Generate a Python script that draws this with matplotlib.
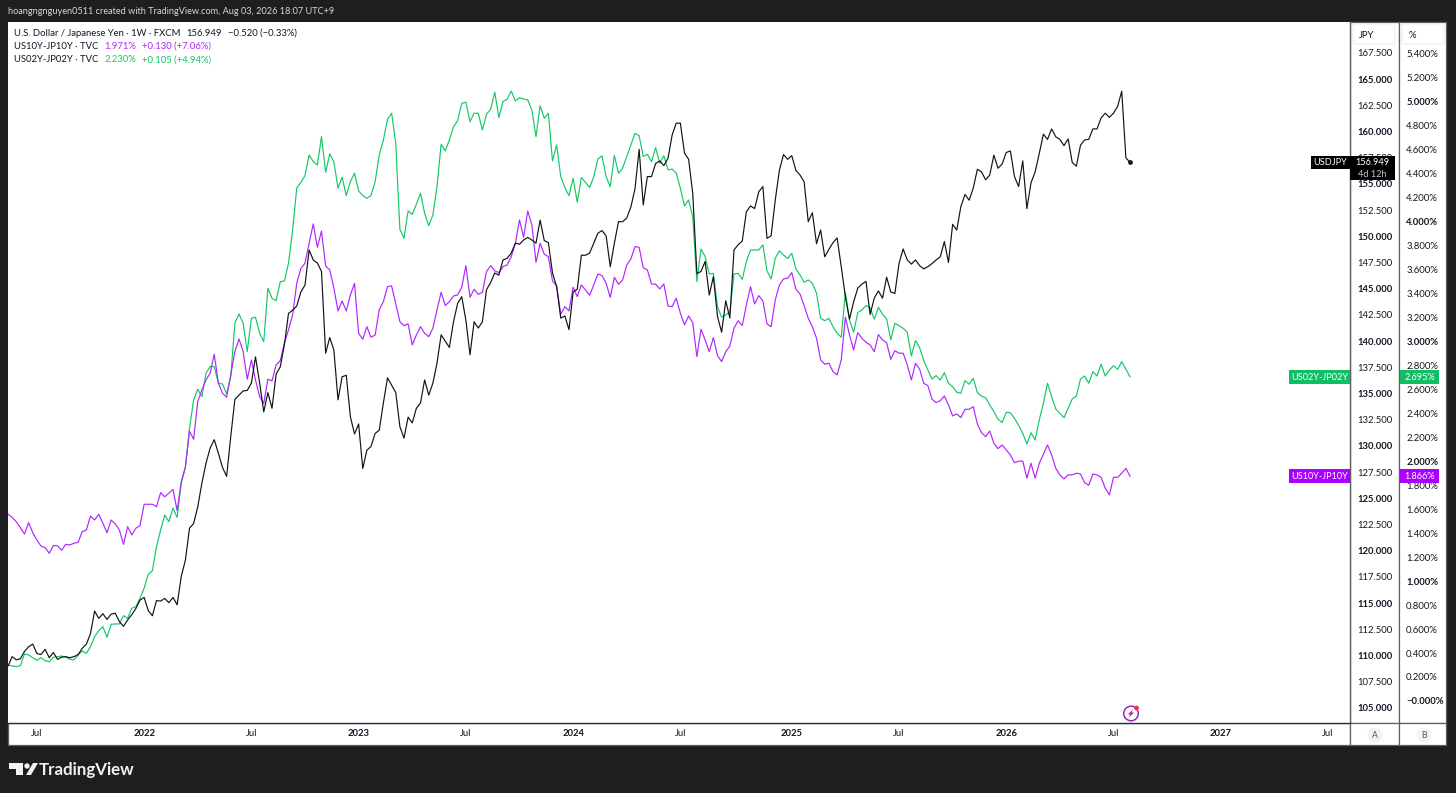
import numpy as np
import pandas as pd
import matplotlib
matplotlib.use("Agg")
import matplotlib.pyplot as plt
import matplotlib.dates as mdates
from matplotlib.patches import Rectangle, Circle, Polygon, FancyBboxPatch
from matplotlib.transforms import ScaledTranslation

plt.rcParams['font.family'] = ['Lato', 'DejaVu Sans']

usdjpy = [
    108.9, 109.8, 109.5, 109.6, 110.3, 110.75, 111.0, 110.1, 110.0, 110.5,
    109.7, 110.2, 109.55, 109.75, 109.8, 109.7, 109.8, 110.0, 110.6, 111.0,
    112.0, 114.15, 113.45, 113.9, 113.35, 113.85, 113.95, 113.15, 112.7, 113.3,
    113.8, 114.4, 115.2, 115.45, 114.2, 113.7, 115.15, 115.1, 115.35, 114.95,
    115.45, 114.75, 117.45, 119.0, 122.05, 122.5, 124.1, 126.35, 128.25, 129.7,
    130.5, 129.2, 127.85, 127.0, 130.8, 134.35, 134.75, 135.15, 135.2, 135.9,
    138.4, 135.9, 133.15, 135.0, 133.5, 136.75, 137.45, 139.55, 142.55, 142.85,
    143.25, 144.6, 145.25, 148.6, 147.65, 147.35, 146.55, 138.75, 140.25, 139.05,
    134.3, 136.5, 136.65, 132.7, 131.05, 132.0, 127.75, 129.5, 129.85, 131.1,
    131.4, 134.0, 136.4, 135.7, 135.0, 131.75, 130.65, 132.65, 132.1, 133.5,
    134.0, 136.2, 134.75, 135.9, 137.8, 140.5, 139.9, 139.3, 141.75, 143.5,
    144.15, 141.9, 138.6, 141.75, 141.15, 141.75, 144.8, 145.5, 146.4, 146.2,
    147.65, 147.8, 148.3, 149.25, 149.15, 149.55, 149.8, 149.55, 149.25, 151.45,
    149.5, 149.3, 146.4, 145.1, 142.1, 142.3, 141.0, 144.6, 144.85, 148.1,
    148.1, 148.3, 149.25, 150.2, 150.45, 149.95, 147.0, 149.25, 151.3, 151.3,
    151.65, 152.7, 154.45, 158.2, 152.9, 155.6, 155.6, 156.85, 157.1, 156.65,
    157.35, 159.55, 160.7, 160.7, 157.85, 157.25, 154.0, 146.35, 146.55, 147.5,
    144.3, 146.05, 142.25, 140.75, 143.75, 142.1, 148.6, 149.1, 149.45, 152.25,
    152.8, 152.55, 154.15, 154.65, 149.7, 149.95, 153.35, 156.2, 157.7, 157.25,
    157.6, 156.2, 155.75, 155.1, 151.3, 152.15, 149.2, 150.5, 147.95, 148.65,
    149.3, 149.75, 147.0, 144.15, 142.0, 143.65, 144.95, 145.35, 145.6, 142.45,
    144.0, 144.7, 144.0, 146.0, 144.6, 144.45, 147.3, 148.7, 147.65, 147.25,
    147.65, 147.1, 146.8, 147.0, 147.3, 147.65, 147.95, 149.4, 147.4, 151.05,
    150.5, 152.75, 153.9, 153.35, 154.5, 156.3, 156.05, 155.3, 155.75, 157.65,
    156.4, 156.8, 157.9, 158.05, 155.6, 154.65, 157.1, 152.55, 155.0, 156.05,
    157.8, 159.65, 159.15, 160.15, 159.4, 159.15, 158.55, 159.2, 156.95, 156.6,
    158.6, 159.1, 159.15, 160.15, 160.15, 161.2, 161.65, 161.25, 161.65, 162.3,
    163.75, 157.4, 156.949,
]

us10y_jp10y = [
    1.549, 1.523, 1.487, 1.437, 1.384, 1.479, 1.395, 1.334, 1.284, 1.270,
    1.223, 1.287, 1.287, 1.248, 1.298, 1.293, 1.307, 1.315, 1.404, 1.418,
    1.535, 1.501, 1.549, 1.474, 1.395, 1.501, 1.468, 1.418, 1.298, 1.445,
    1.376, 1.432, 1.454, 1.632, 1.632, 1.632, 1.612, 1.729, 1.695, 1.724,
    1.757, 1.579, 1.821, 1.941, 2.243, 2.174, 2.488, 2.585, 2.669, 2.725,
    2.883, 2.641, 2.558, 2.525, 2.711, 2.905, 3.011, 2.905, 2.675, 2.836,
    2.669, 2.530, 2.474, 2.675, 2.661, 2.794, 2.830, 2.975, 3.086, 3.211,
    3.475, 3.600, 3.642, 3.809, 3.970, 3.775, 3.911, 3.620, 3.586, 3.434,
    3.244, 3.328, 3.244, 3.378, 3.475, 3.058, 3.008, 3.113, 3.025, 3.044,
    3.253, 3.322, 3.447, 3.453, 3.303, 3.155, 3.122, 3.136, 2.961, 3.044,
    3.113, 3.058, 3.030, 3.100, 3.253, 3.400, 3.289, 3.322, 3.369, 3.378,
    3.442, 3.622, 3.358, 3.425, 3.383, 3.400, 3.572, 3.622, 3.578, 3.564,
    3.614, 3.628, 3.697, 3.809, 4.003, 3.859, 4.078, 3.962, 3.650, 3.809,
    3.717, 3.697, 3.494, 3.455, 3.217, 3.280, 3.244, 3.442, 3.364, 3.461,
    3.419, 3.375, 3.461, 3.553, 3.539, 3.475, 3.358, 3.525, 3.467, 3.503,
    3.628, 3.678, 3.781, 3.775, 3.605, 3.586, 3.469, 3.467, 3.428, 3.469,
    3.286, 3.280, 3.350, 3.225, 3.128, 3.203, 3.147, 2.863, 3.092, 3.003,
    2.905, 3.022, 2.872, 2.822, 2.905, 2.953, 3.100, 3.163, 3.122, 3.294,
    3.447, 3.303, 3.372, 3.328, 3.136, 3.113, 3.336, 3.461, 3.511, 3.517,
    3.564, 3.425, 3.386, 3.289, 3.183, 3.113, 3.017, 2.836, 2.800, 2.808,
    2.738, 2.711, 2.836, 3.192, 3.044, 2.919, 3.064, 3.017, 2.983, 2.961,
    2.905, 3.047, 3.003, 2.980, 2.841, 2.913, 2.892, 2.892, 2.794, 2.669,
    2.808, 2.758, 2.641, 2.622, 2.508, 2.480, 2.496, 2.535, 2.460, 2.369,
    2.385, 2.355, 2.424, 2.424, 2.446, 2.302, 2.229, 2.196, 2.243, 2.141,
    2.096, 2.127, 2.085, 2.043, 1.979, 1.991, 1.993, 1.849, 1.974, 1.849,
    1.974, 2.049, 2.127, 2.043, 1.932, 1.877, 1.843, 1.877, 1.877, 1.891,
    1.885, 1.812, 1.791, 1.885, 1.877, 1.857, 1.766, 1.710, 1.857, 1.857,
    1.891, 1.932, 1.866,
]

us02y_jp02y = [
    0.292, 0.284, 0.278, 0.286, 0.384, 0.375, 0.353, 0.331, 0.353, 0.328,
    0.319, 0.356, 0.361, 0.367, 0.356, 0.339, 0.334, 0.375, 0.409, 0.389,
    0.445, 0.528, 0.578, 0.611, 0.523, 0.631, 0.634, 0.634, 0.703, 0.681,
    0.765, 0.778, 0.848, 0.932, 1.048, 1.078, 1.279, 1.418, 1.543, 1.487,
    1.599, 1.523, 1.807, 1.941, 2.266, 2.502, 2.591, 2.530, 2.725, 2.780,
    2.780, 2.641, 2.635, 2.552, 2.696, 3.142, 3.219, 3.142, 2.905, 3.183,
    3.192, 3.058, 2.988, 3.434, 3.350, 3.330, 3.489, 3.494, 3.642, 3.920,
    4.270, 4.318, 4.373, 4.545, 4.489, 4.462, 4.698, 4.401, 4.554, 4.489,
    4.268, 4.359, 4.206, 4.323, 4.393, 4.245, 4.206, 4.184, 4.206, 4.323,
    4.545, 4.670, 4.843, 4.893, 4.643, 3.925, 3.850, 4.078, 4.050, 4.134,
    4.226, 4.059, 3.956, 4.045, 4.281, 4.634, 4.579, 4.670, 4.781, 4.831,
    4.976, 4.985, 4.823, 4.893, 4.893, 4.754, 4.885, 4.926, 5.068, 4.856,
    4.990, 5.010, 5.079, 4.996, 5.023, 5.012, 5.004, 4.921, 4.698, 4.956,
    4.851, 4.893, 4.495, 4.629, 4.364, 4.273, 4.206, 4.351, 4.151, 4.356,
    4.318, 4.273, 4.364, 4.512, 4.537, 4.364, 4.281, 4.539, 4.393, 4.434,
    4.531, 4.629, 4.726, 4.706, 4.531, 4.551, 4.489, 4.606, 4.476, 4.539,
    4.420, 4.428, 4.393, 4.268, 4.120, 4.170, 4.031, 3.489, 3.761, 3.697,
    3.553, 3.558, 3.280, 3.192, 3.211, 3.239, 3.553, 3.558, 3.508, 3.656,
    3.753, 3.753, 3.753, 3.795, 3.578, 3.511, 3.684, 3.745, 3.711, 3.681,
    3.725, 3.595, 3.545, 3.484, 3.503, 3.475, 3.392, 3.183, 3.163, 3.183,
    3.113, 3.058, 3.025, 3.397, 3.169, 3.067, 3.230, 3.253, 3.289, 3.272,
    3.175, 3.275, 3.217, 3.178, 3.003, 3.142, 3.122, 3.100, 3.067, 2.869,
    2.997, 2.938, 2.830, 2.752, 2.677, 2.705, 2.669, 2.730, 2.641, 2.613,
    2.566, 2.558, 2.663, 2.633, 2.683, 2.563, 2.535, 2.521, 2.460, 2.405,
    2.341, 2.313, 2.399, 2.396, 2.349, 2.288, 2.224, 2.135, 2.229, 2.168,
    2.335, 2.474, 2.641, 2.530, 2.427, 2.391, 2.355, 2.433, 2.510, 2.535,
    2.677, 2.702, 2.641, 2.738, 2.702, 2.800, 2.702, 2.752, 2.788, 2.758,
    2.822, 2.758, 2.695,
]

jpy_ticks = [105 + 2.5 * k for k in range(26)]
pct_ticks = [0.2 * k for k in range(28)]
x_ticks = ["2021-07-05", "2022-01-03", "2022-07-04", "2023-01-02", "2023-07-03", "2024-01-01",
           "2024-07-01", "2025-01-06", "2025-07-07", "2026-01-05", "2026-07-06", "2027-01-04", "2027-07-05"]
x_labels = ["Jul", "2022", "Jul", "2023", "Jul", "2024", "Jul", "2025", "Jul", "2026", "Jul", "2027", "Jul"]

dates = pd.date_range(end="2026-08-03", periods=len(usdjpy), freq="7D")

BG = "#1e1e1e"
EDGE = "#5d6068"
BLACK = "#131313"
PURPLE = "#b026ff"
GREEN = "#12c964"
TAG_PURPLE = "#aa00ff"
TAG_GREEN = "#0fbf62"
TXT = "#131722"
FS = 6.8
FS_TAG = 6.6
W, H = 1456, 793


def fx(x):
    return x / W


def fy(y):
    return 1 - y / H


fig = plt.figure(figsize=(14.56, 7.93), dpi=100, facecolor=BG)

# white panels: price scales and time scale
for x0, x1, y0, y1 in [(1350, 1399, 22, 723), (1399, 1446, 22, 723), (8, 1350, 723, 745),
                       (1350, 1399, 723, 745), (1399, 1446, 723, 745)]:
    fig.add_artist(Rectangle((fx(x0), fy(y1)), (x1 - x0) / W, (y1 - y0) / H, transform=fig.transFigure,
                             fc="white", ec=EDGE, lw=0.9, zorder=0))

ax = fig.add_axes([fx(8), fy(723), (1350 - 8) / W, (723 - 22) / H])
ax2 = ax.twinx()
ax.set_zorder(3)
ax2.set_zorder(2)
ax.patch.set_alpha(0)
ax2.patch.set_visible(True)
ax2.patch.set_facecolor("white")

ax2.plot(dates, us02y_jp02y, color=GREEN, lw=0.85)
ax2.plot(dates, us10y_jp10y, color=PURPLE, lw=0.85)
ax.plot(dates, usdjpy, color=BLACK, lw=0.85)
ax.plot(dates[-1], usdjpy[-1], "o", color=BLACK, ms=2.4)

start = mdates.date2num(dates[0])
ax.set_xlim(start, start + 7 * (1350 - 8) / 4.125)
ax.set_ylim(103.47, 170.35)
ax2.set_ylim(-0.192, 5.654)

ax.set_xticks(pd.to_datetime(x_ticks))
ax.set_xticklabels(x_labels, fontsize=FS, color=TXT)
ax.tick_params(axis="x", length=0, pad=4.6)
for lab, name in zip(ax.get_xticklabels(), x_labels):
    if name != "Jul":
        lab.set_fontweight("bold")

nudge = ScaledTranslation(0, -1 / 100, fig.dpi_scale_trans)

ax.yaxis.tick_right()
ax.set_yticks(jpy_ticks)
ax.set_yticklabels([f"{v:.3f}" for v in jpy_ticks], fontsize=FS, color=TXT)
ax.tick_params(axis="y", length=0, pad=5)
for lab, v in zip(ax.get_yticklabels(), jpy_ticks):
    lab.set_transform(lab.get_transform() + nudge)
    if v % 5 == 0:
        lab.set_fontweight("bold")

ax2.set_yticks(pct_ticks)
ax2.set_yticklabels(["\u22120.000%" if v == 0 else f"{v:.3f}%" for v in pct_ticks], fontsize=FS, color=TXT)
ax2.tick_params(axis="y", length=0, pad=40.5)
for lab, v in zip(ax2.get_yticklabels(), pct_ticks):
    lab.set_transform(lab.get_transform() + nudge)
    if abs(v - round(v)) < 1e-6:
        lab.set_fontweight("bold")

for a in (ax, ax2):
    for sp in a.spines.values():
        sp.set_visible(False)
ax.spines["bottom"].set_visible(True)
ax.spines["bottom"].set_color("#2a2e39")
ax.spines["bottom"].set_linewidth(1.0)
ax.spines["right"].set_visible(True)
ax.spines["right"].set_color(EDGE)
ax.spines["right"].set_linewidth(1.0)


# legend lines
def legend_row(y, parts):
    x = 14
    rend = fig.canvas.get_renderer()
    for s, c, gap in parts:
        t = fig.text(fx(x), fy(y), s, color=c, fontsize=FS, va="center", ha="left", zorder=6)
        x += t.get_window_extent(rend).width + gap


legend_row(33, [("U.S. Dollar / Japanese Yen \u00b7 1W \u00b7 FXCM", TXT, 6), ("156.949", TXT, 6),
                ("\u22120.520 (\u22120.33%)", TXT, 0)])
legend_row(46.5, [("US10Y-JP10Y \u00b7 TVC", TXT, 6), ("1.971%", PURPLE, 6), ("+0.130 (+7.06%)", PURPLE, 0)])
legend_row(60, [("US02Y-JP02Y \u00b7 TVC", TXT, 6), ("2.230%", GREEN, 6), ("+0.105 (+4.94%)", GREEN, 0)])

fig.text(fx(8), fy(11), "hoangngnguyen0511 created with TradingView.com, Aug 03, 2026 18:07 UTC+9",
         color="#d8d8d8", fontsize=6.6, va="center", ha="left")


def box(x0, y0, x1, y1, color, z=7):
    fig.add_artist(Rectangle((fx(x0), fy(y1)), (x1 - x0) / W, (y1 - y0) / H, transform=fig.transFigure,
                             fc=color, ec="none", zorder=z))


def tag(y, name, val, color, xleft, x_val0, x_val1):
    box(xleft, y - 7, 1350, y + 7, color)
    box(x_val0, y - 7, x_val1, y + 7, color)
    fig.text(fx((xleft + 1350) / 2), fy(y + 0.5), name, color="white", fontsize=FS_TAG, va="center", ha="center", zorder=8)
    fig.text(fx((x_val0 + x_val1) / 2), fy(y + 0.5), val, color="white", fontsize=FS_TAG, va="center", ha="center", zorder=8)


def y_of(axis, v):
    return H - axis.transData.transform((0, v))[1]


tag(y_of(ax2, us02y_jp02y[-1]), "US02Y-JP02Y", "2.695%", TAG_GREEN, 1289, 1400, 1439)
tag(y_of(ax2, us10y_jp10y[-1]), "US10Y-JP10Y", "1.866%", TAG_PURPLE, 1289, 1400, 1439)

# USDJPY tag with countdown
yj = y_of(ax, usdjpy[-1])
box(1311, yj - 6.5, 1350, yj + 6.5, "#000000")
box(1350, yj - 6.5, 1395, yj + 18, "#000000")
fig.text(fx(1330.5), fy(yj + 0.5), "USDJPY", color="white", fontsize=FS_TAG, va="center", ha="center", zorder=8)
fig.text(fx(1372.5), fy(yj + 0.5), "156.949", color="white", fontsize=FS_TAG, va="center", ha="center", zorder=8)
fig.text(fx(1372.5), fy(yj + 12), "4d 12h", color="#c8c8c8", fontsize=FS_TAG, va="center", ha="center", zorder=8)

# unit headers and A / B badges
for x0, x1, s in [(1353, 1395, "JPY"), (1402, 1444, "%")]:
    fig.add_artist(FancyBboxPatch((fx(x0), fy(44)), (x1 - x0) / W, 20 / H, boxstyle="round,pad=0,rounding_size=0.002",
                                  transform=fig.transFigure, fc="white", ec="#eeeeee", lw=0.8, zorder=6))
    fig.text(fx(x0 + 14 if s == "JPY" else x0 + 10), fy(35), s, color=TXT, fontsize=FS,
             va="center", ha="center", zorder=7)
for xc, s in [(1375, "A"), (1424, "B")]:
    fig.add_artist(Circle((xc, H - 735), 7.5, transform=None, fc="#f0f3fa", ec="none", zorder=6))
    fig.text(fx(xc), fy(735), s, color="#555555", fontsize=FS - 0.5, va="center", ha="center", zorder=7)

# lightning badge near the time scale
fig.add_artist(Circle((1131, H - 713.5), 7.3, transform=None, fc="white", ec="#9c27b0", lw=1.1, zorder=6))
fig.add_artist(Polygon([(1133, H - 709), (1128, H - 714.5), (1130.5, H - 714.5), (1128.5, H - 718),
                        (1134, H - 712.5), (1131.5, H - 712.5)], closed=True, transform=None,
                       fc="#9c27b0", ec="none", zorder=7))
fig.add_artist(Circle((1136.5, H - 708), 2.4, transform=None, fc="#f23645", ec="none", zorder=8))

# TradingView logo
fig.add_artist(Polygon([(9, H - 763), (23, H - 763), (23, H - 775), (16, H - 775), (16, H - 769), (9, H - 769)],
                       closed=True, transform=None, fc="#f2f2f2", ec="none", zorder=6))
fig.add_artist(Circle((27, H - 766), 2.7, transform=None, fc="#f2f2f2", ec="none", zorder=6))
fig.add_artist(Polygon([(33, H - 763), (26, H - 775), (31, H - 775), (38, H - 763)],
                       closed=True, transform=None, fc="#f2f2f2", ec="none", zorder=6))
fig.text(fx(39), fy(769.5), "TradingView", color="#f2f2f2", fontsize=12.2, fontweight="bold",
         va="center", ha="left", zorder=6)

fig.savefig("out.png", dpi=100, facecolor=BG)
